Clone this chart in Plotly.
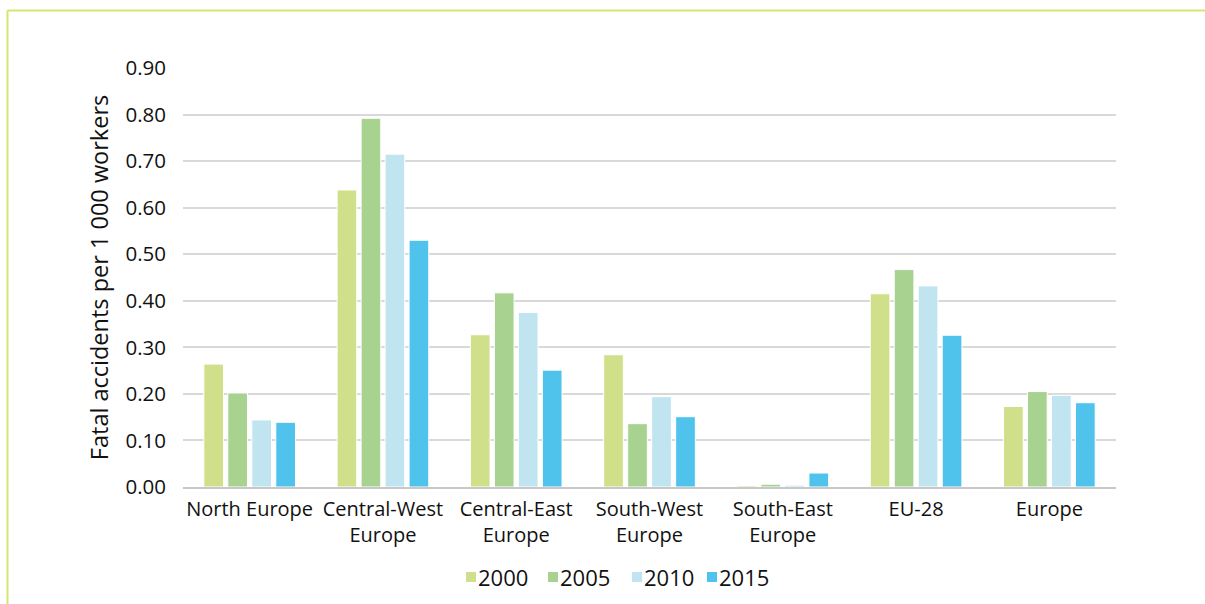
import plotly.graph_objects as go

# Regions and fatal accident rates (per 1 000 workers) by year
regions = [
    "North Europe",
    "Central-West<br>Europe",
    "Central-East<br>Europe",
    "South-West<br>Europe",
    "South-East<br>Europe",
    "EU-28",
    "Europe",
]
years = ["2000", "2005", "2010", "2015"]
rate_2000 = [0.264, 0.638, 0.327, 0.284, 0.003, 0.415, 0.173]
rate_2005 = [0.202, 0.792, 0.417, 0.136, 0.006, 0.467, 0.205]
rate_2010 = [0.144, 0.715, 0.375, 0.194, 0.004, 0.432, 0.197]
rate_2015 = [0.139, 0.530, 0.251, 0.151, 0.030, 0.326, 0.181]
y_ticks = [0.0, 0.1, 0.2, 0.3, 0.4, 0.5, 0.6, 0.7, 0.8, 0.9]

series = [rate_2000, rate_2005, rate_2010, rate_2015]
colors = ["#d0e08a", "#a8d290", "#c0e4f0", "#4fc3ec"]

FONT = "Open Sans"
TEXT = "#111111"

fig = go.Figure()
for year, vals, col in zip(years, series, colors):
    fig.add_trace(go.Bar(
        x=regions, y=vals, name=year, showlegend=False,
        marker=dict(color=col, line=dict(color="white", width=1)),
    ))

# plot area geometry (px) used to place decorations in paper coords
L, R, T, B = 183, 89, 68, 117
W, H = 1205, 604
pw, ph = W - L - R, H - T - B

def px_x(x):
    return (x - L) / pw

def px_y(y):
    return (H - B - y) / ph

# outer frame: top and left rules
frame_col = "#d5e570"
fig.add_shape(type="line", xref="paper", yref="paper",
              x0=px_x(7.5), x1=px_x(W + 5), y0=px_y(10.5), y1=px_y(10.5),
              line=dict(color=frame_col, width=2))
fig.add_shape(type="line", xref="paper", yref="paper",
              x0=px_x(7.5), x1=px_x(7.5), y0=px_y(10.5), y1=px_y(H + 5),
              line=dict(color=frame_col, width=2))

# compact legend row beneath the axis
legend_square_left = [466, 548, 632, 707]
legend_y = 577
for year, col, sx in zip(years, colors, legend_square_left):
    fig.add_shape(type="rect", xref="paper", yref="paper",
                  x0=px_x(sx), x1=px_x(sx + 10),
                  y0=px_y(legend_y - 5), y1=px_y(legend_y + 5),
                  fillcolor=col, line=dict(width=0))
    fig.add_annotation(xref="paper", yref="paper", x=px_x(sx + 11), y=px_y(legend_y),
                       xanchor="left", yanchor="middle", showarrow=False,
                       text=year, font=dict(size=22, color=TEXT, family=FONT),
                       borderpad=0)

fig.update_layout(
    width=W, height=H,
    margin=dict(l=L, r=R, t=T, b=B, pad=0),
    paper_bgcolor="white", plot_bgcolor="white",
    barmode="group", bargap=0.28, bargroupgap=0.18,
    font=dict(family=FONT, color=TEXT, size=20),
    showlegend=False,
    xaxis=dict(showgrid=False, showline=True, linecolor="#c8c8c8", linewidth=2,
               ticks="", ticklabelstandoff=3,
               tickfont=dict(size=20, color=TEXT), fixedrange=True),
    yaxis=dict(range=[0, 0.9], tickvals=y_ticks, tickformat=".2f",
               showgrid=True, gridcolor="#d9d9d9", gridwidth=2,
               zeroline=False, showline=False, ticks="",
               ticklabelstandoff=16,
               tickfont=dict(size=20.5, color=TEXT),
               title=dict(text="Fatal accidents per 1 000 workers",
                          font=dict(size=23.5, color=TEXT), standoff=10)),
)

fig.write_html("out.html")
